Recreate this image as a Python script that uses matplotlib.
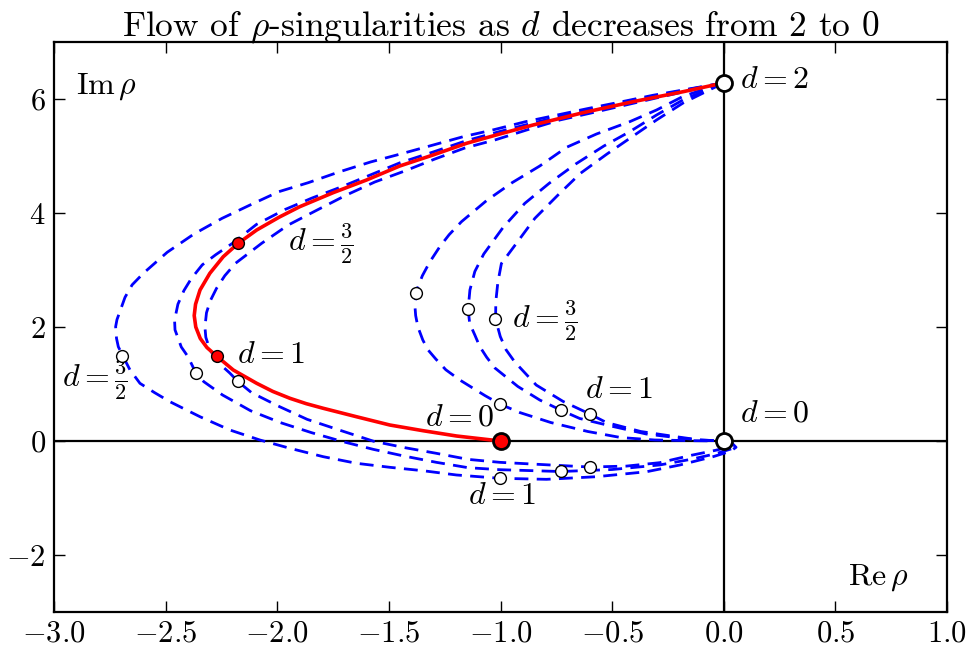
import numpy as np
import matplotlib
matplotlib.use('Agg')
import matplotlib.pyplot as plt

plt.rcParams['font.family'] = 'serif'
plt.rcParams['font.serif'] = ['cmr10']
plt.rcParams['mathtext.fontset'] = 'cm'
plt.rcParams['axes.formatter.use_mathtext'] = True
plt.rcParams['axes.unicode_minus'] = True

# ── traced curves (Re rho, Im rho) ───────────────────────────────
red_x = [0.0, -0.182, -0.406, -0.630, -0.854, -1.003, -1.152, -1.302, -1.451, -1.600,
         -1.750, -1.899, -1.990, -2.092, -2.175, -2.242, -2.302, -2.346, -2.366, -2.372,
         -2.365, -2.345, -2.315, -2.272, -2.197, -2.092, -2.020, -1.943, -1.870, -1.794,
         -1.645, -1.496, -1.347, -1.197, -1.0]
red_y = [6.283, 6.128, 5.953, 5.760, 5.544, 5.386, 5.223, 5.018, 4.825, 4.579,
         4.356, 4.111, 3.930, 3.702, 3.468, 3.233, 2.942, 2.649, 2.400, 2.200,
         2.000, 1.800, 1.640, 1.491, 1.246, 1.012, 0.870, 0.749, 0.655, 0.574,
         0.426, 0.281, 0.181, 0.088, 0.0]

# outer family (loops round the left, ends below the axis)
a_x = [0.0, -0.317, -0.463, -0.612, -0.746, -0.888, -1.030, -1.167, -1.306, -1.448,
       -1.582, -1.724, -1.861, -1.993, -2.122, -2.247, -2.373, -2.493, -2.600, -2.650,
       -2.682, -2.705, -2.718, -2.724, -2.720, -2.712, -2.690, -2.660, -2.615, -2.550,
       -2.481, -2.346, -2.212, -2.078, -1.943, -1.794, -1.645, -1.496, -1.347, -1.197,
       -1.003, -0.794, -0.570, -0.346, -0.197, -0.048, 0.030, 0.055, 0.040, 0.0]
a_y = [6.283, 6.065, 5.947, 5.830, 5.719, 5.602, 5.461, 5.339, 5.188, 5.035,
       4.895, 4.719, 4.532, 4.374, 4.140, 3.907, 3.632, 3.311, 2.942, 2.740,
       2.521, 2.270, 2.130, 2.005, 1.800, 1.654, 1.479, 1.250, 1.012, 0.850,
       0.690, 0.426, 0.193, 0.018, -0.128, -0.275, -0.391, -0.461, -0.521, -0.596,
       -0.654, -0.672, -0.626, -0.539, -0.421, -0.275, -0.180, -0.110, -0.050, 0.0]

b_x = [0.0, -0.182, -0.406, -0.630, -0.854, -1.003, -1.152, -1.302, -1.451, -1.600,
       -1.712, -1.846, -1.966, -2.093, -2.200, -2.275, -2.336, -2.385, -2.418, -2.445,
       -2.460, -2.458, -2.430, -2.400, -2.364, -2.329, -2.245, -2.120, -1.985, -1.846,
       -1.705, -1.570, -1.433, -1.287, -1.145, -1.003, -0.730, -0.500, -0.287, -0.145,
       -0.033, 0.040, 0.030, 0.0]
b_y = [6.283, 6.150, 5.980, 5.790, 5.580, 5.430, 5.270, 5.070, 4.880, 4.640,
       4.460, 4.260, 4.060, 3.800, 3.470, 3.270, 3.090, 2.850, 2.640, 2.400,
       2.120, 1.950, 1.650, 1.480, 1.190, 1.041, 0.807, 0.532, 0.322, 0.146,
       -0.012, -0.146, -0.263, -0.374, -0.468, -0.503, -0.535, -0.500, -0.420, -0.320,
       -0.220, -0.130, -0.050, 0.0]

c_x = [0.0, -0.300, -0.600, -0.734, -0.883, -1.021, -1.160, -1.294, -1.429, -1.563,
       -1.690, -1.821, -1.951, -2.070, -2.187, -2.235, -2.272, -2.300, -2.317, -2.324,
       -2.320, -2.302, -2.275, -2.243, -2.212, -2.175, -2.115, -1.996, -1.866, -1.720,
       -1.567, -1.428, -1.287, -1.145, -1.003, -0.730, -0.600, -0.436, -0.287, -0.145,
       -0.033, 0.045, 0.0]
c_y = [6.283, 6.020, 5.749, 5.632, 5.456, 5.286, 5.140, 4.947, 4.737, 4.544,
       4.316, 4.053, 3.789, 3.468, 3.118, 2.900, 2.679, 2.460, 2.250, 2.000,
       1.820, 1.600, 1.450, 1.300, 1.190, 1.040, 0.848, 0.614, 0.380, 0.190,
       -0.006, -0.117, -0.216, -0.322, -0.374, -0.430, -0.456, -0.440, -0.380, -0.250,
       -0.160, -0.080, 0.0]

# inner family (turns back above the axis)
d_x = [0.0, -0.180, -0.301, -0.421, -0.570, -0.704, -0.824, -0.948, -1.063, -1.175,
       -1.230, -1.272, -1.317, -1.350, -1.372, -1.384, -1.380, -1.370, -1.348, -1.325,
       -1.290, -1.245, -1.182, -1.070, -1.003, -0.914, -0.775, -0.609, -0.461, -0.309,
       -0.125, 0.0]
d_y = [6.283, 6.050, 5.807, 5.602, 5.386, 5.153, 4.825, 4.532, 4.216, 3.847,
       3.620, 3.409, 3.140, 2.900, 2.680, 2.400, 2.200, 2.000, 1.772, 1.600,
       1.439, 1.250, 1.070, 0.798, 0.649, 0.500, 0.325, 0.167, 0.061, 0.018,
       0.005, 0.0]

e_x = [0.0, -0.180, -0.301, -0.421, -0.537, -0.663, -0.782, -0.891, -0.988, -1.075,
       -1.115, -1.137, -1.145, -1.138, -1.115, -1.093, -1.062, -1.025, -0.922, -0.824,
       -0.731, -0.645, -0.495, -0.347, -0.197, -0.107, 0.0]
e_y = [6.283, 5.990, 5.719, 5.427, 5.175, 4.860, 4.521, 4.170, 3.749, 3.281,
       2.974, 2.650, 2.311, 2.061, 1.860, 1.658, 1.470, 1.281, 0.956, 0.719,
       0.544, 0.395, 0.254, 0.123, 0.053, 0.018, 0.0]

f_x = [0.0, -0.180, -0.301, -0.421, -0.523, -0.642, -0.738, -0.846, -0.931, -0.996,
       -1.012, -1.021, -1.022, -1.001, -0.975, -0.936, -0.840, -0.719, -0.600, -0.526,
       -0.372, -0.219, -0.107, 0.0]
f_y = [6.283, 5.935, 5.632, 5.310, 5.035, 4.696, 4.333, 3.907, 3.456, 3.114,
       2.780, 2.447, 2.135, 1.833, 1.600, 1.386, 0.982, 0.693, 0.474, 0.325,
       0.167, 0.079, 0.018, 0.0]

# ── marked points ────────────────────────────────────────────────
red_pts_x = [-2.175, -2.272]
red_pts_y = [3.468, 1.491]
open_x = [-2.696, -2.364, -2.176, -1.003, -0.730, -0.600,
          -1.379, -1.146, -1.025, -1.003, -0.730, -0.600]
open_y = [1.490, 1.190, 1.050, -0.650, -0.530, -0.460,
          2.600, 2.320, 2.140, 0.650, 0.540, 0.470]
ends_x = [0.0, 0.0]
ends_y = [2 * np.pi, 0.0]
red_end = (-1.0, 0.0)

# ── figure ───────────────────────────────────────────────────────
fig = plt.figure(figsize=(9.68, 6.52), dpi=100)
ax = fig.add_axes([0.0558, 0.0613, 0.9225, 0.8743])

ax.axhline(0, color='k', lw=1.6, zorder=1)
ax.axvline(0, color='k', lw=1.6, zorder=1)

dash = (0, (5, 3))
for xs, ys in [(a_x, a_y), (b_x, b_y), (c_x, c_y), (d_x, d_y), (e_x, e_y), (f_x, f_y)]:
    ax.plot(xs, ys, color='b', lw=2.0, linestyle=dash, zorder=2)

ax.plot(red_x, red_y, color='r', lw=2.6, zorder=3)

ax.plot(open_x, open_y, 'o', ms=8.5, mfc='white', mec='k', mew=1.0, zorder=5)
ax.plot(red_pts_x, red_pts_y, 'o', ms=8.5, mfc='r', mec='k', mew=1.0, zorder=5)
ax.plot(ends_x, ends_y, 'o', ms=11.5, mfc='white', mec='k', mew=2.0, zorder=6)
ax.plot([red_end[0]], [red_end[1]], 'o', ms=11.5, mfc='r', mec='k', mew=2.0, zorder=6)

fs = 23
ax.text(0.072, 6.33, r'$d=2$', fontsize=fs, ha='left', va='center')
ax.text(-1.953, 3.47, r'$d=\frac{3}{2}$', fontsize=fs, ha='left', va='center')
ax.text(-2.181, 1.51, r'$d=1$', fontsize=fs, ha='left', va='center')
ax.text(-2.965, 1.07, r'$d=\frac{3}{2}$', fontsize=fs, ha='left', va='center')
ax.text(-0.949, 2.12, r'$d=\frac{3}{2}$', fontsize=fs, ha='left', va='center')
ax.text(-0.622, 0.895, r'$d=1$', fontsize=fs, ha='left', va='center')
ax.text(-1.339, 0.40, r'$d=0$', fontsize=fs, ha='left', va='center')
ax.text(0.072, 0.47, r'$d=0$', fontsize=fs, ha='left', va='center')
ax.text(-1.146, -0.965, r'$d=1$', fontsize=fs, ha='left', va='center')
ax.text(-2.901, 6.21, r'$\mathrm{Im}\,\rho$', fontsize=fs, ha='left', va='center')
ax.text(0.555, -2.39, r'$\mathrm{Re}\,\rho$', fontsize=fs, ha='left', va='center')

ax.set_title(r'Flow of $\rho$-singularities as $d$ decreases from 2 to 0', fontsize=25.5, pad=5)

ax.set_xlim(-3, 1)
ax.set_ylim(-3, 7)
ax.set_xticks(np.arange(-3.0, 1.01, 0.5))
ax.set_yticks([-2, 0, 2, 4, 6])
ax.tick_params(direction='in', length=8, width=1, top=True, right=True, labelsize=22, pad=6)
for s in ax.spines.values():
    s.set_linewidth(1.6)

fig.savefig('out.png', dpi=100)
